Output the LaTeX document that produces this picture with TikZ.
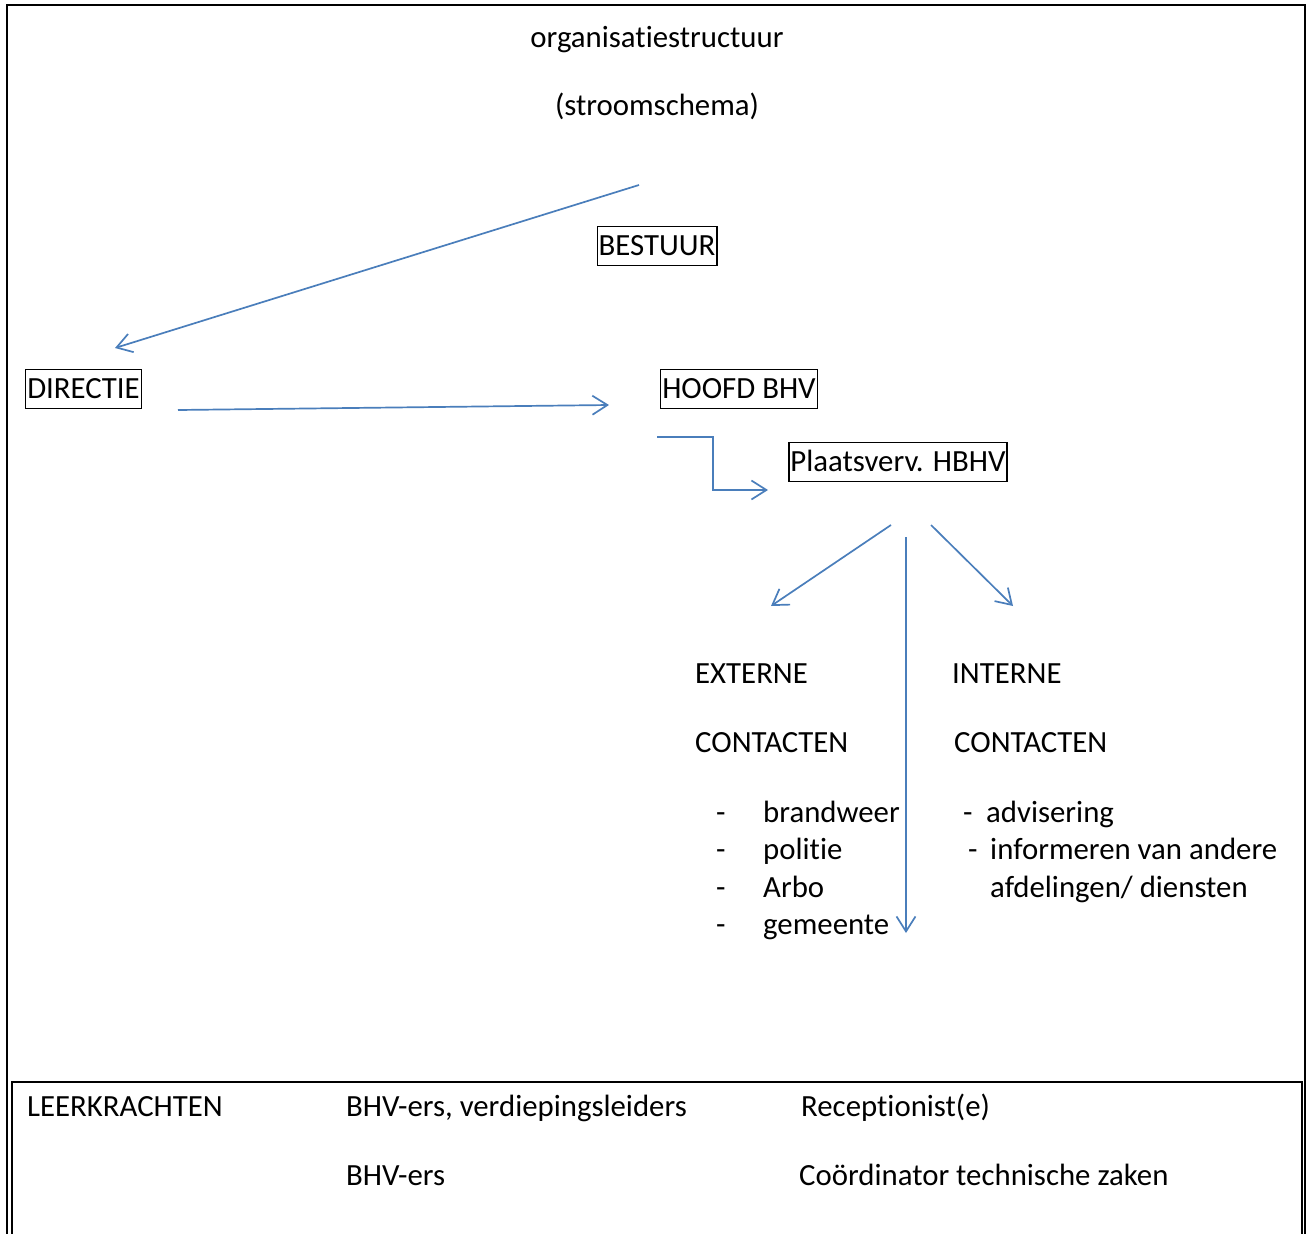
\documentclass[tikz,border=0pt]{standalone}
\usepackage{fontspec}
\setmainfont{Carlito}[Ligatures=NoCommon]
\usetikzlibrary{arrows.meta}
\definecolor{flowblue}{RGB}{74,126,187}

\begin{document}
\begin{tikzpicture}[x=1pt, y=-1pt, font=\fontsize{30.8}{37}\selectfont,
    box/.style={draw, line width=1.3pt, inner xsep=1.5pt, inner ysep=9.75pt, text height=19.5pt, text depth=0pt},
    txt/.style={anchor=base west, inner sep=0pt},
    flow/.style={draw=flowblue, line width=1.7pt, -{Straight Barb[length=15pt, width=19pt, line width=1.7pt]}}]

    \useasboundingbox (0,0) rectangle (1307,1234);

    % frame (page) and bottom table
    \draw[line width=1.6pt] (7,1234) -- (7,5) -- (1305,5) -- (1305,1234);
    \draw[line width=1.6pt] (12,1234) -- (12,1082) -- (1302,1082) -- (1302,1234);

    % title
    \node[anchor=base, inner sep=0pt] (title) at (657,47) {organisatiestructuur};
    \node[anchor=base, inner sep=0pt] (subtitle) at (657,115) {(stroomschema)};

    % boxes
    \node[box] (bestuur) at (657,246) {BESTUUR};
    \node[box] (directie) at (83.5,389) {DIRECTIE};
    \node[box] (hoofd) at (739,389) {HOOFD BHV};
    \node[box] (plv) at (898,462) {Plaatsverv. HBHV};

    % free arrow ends
    \coordinate (bestuur_out) at (639,185);
    \coordinate (directie_in) at (115,348);
    \coordinate (directie_out) at (178,410);
    \coordinate (hoofd_in) at (609,405);
    \coordinate (hoofd_out) at (657,437);
    \coordinate (plv_in) at (768,490);
    \coordinate (plv_left) at (891,525);
    \coordinate (ext_in) at (771,606);
    \coordinate (plv_right) at (931,525);
    \coordinate (int_in) at (1013,606);
    \coordinate (plv_down) at (906,537);
    \coordinate (down_end) at (906,933);

    % arrows
    \draw[flow] (bestuur_out) -- (directie_in);
    \draw[flow] (directie_out) -- (hoofd_in);
    \draw[flow] (hoofd_out) -- ++(56,0) |- (plv_in);
    \draw[flow] (plv_left) -- (ext_in);
    \draw[flow] (plv_right) -- (int_in);
    \draw[flow] (plv_down) -- (down_end);

    % externe contacten
    \node[txt] (ext1) at (695,683) {EXTERNE};
    \node[txt] (ext2) at (695,752) {CONTACTEN};
    \foreach \item [count=\i] in {brandweer, politie, Arbo, gemeente} {
        \node[txt] (dash\i) at (716,784.5+37.5*\i) {-};
        \node[txt] (ext_item\i) at (763,784.5+37.5*\i) {\item};
    }

    % interne contacten
    \node[txt] (int1) at (952,683) {INTERNE};
    \node[txt] (int2) at (954,752) {CONTACTEN};
    \node[txt] (int_dash1) at (963,822) {-};
    \node[txt] (int_item1) at (986,822) {advisering};
    \node[txt] (int_dash2) at (968,859.5) {-};
    \node[txt] (int_item2) at (990,859.5) {informeren van andere};
    \node[txt] (int_item3) at (990,897) {afdelingen/ diensten};

    % table text
    \node[txt] (leer) at (27,1116) {LEERKRACHTEN};
    \node[txt] (bhv1) at (346,1116) {BHV-ers, verdiepingsleiders};
    \node[txt] (recep) at (801,1116) {Receptionist(e)};
    \node[txt] (bhv2) at (346,1185) {BHV-ers};
    \node[txt] (coord) at (799,1185) {Coördinator technische zaken};
\end{tikzpicture}
\end{document}
